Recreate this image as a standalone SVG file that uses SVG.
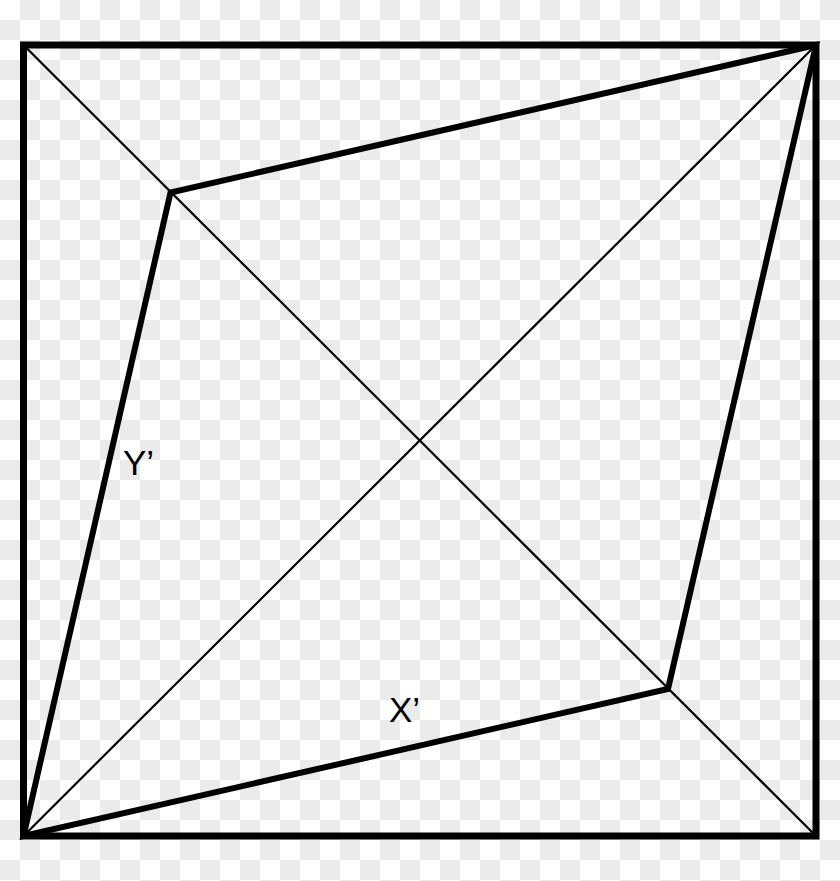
<svg xmlns="http://www.w3.org/2000/svg" width="840" height="881" viewBox="0 0 840 881">
<defs>
<pattern id="checker" patternUnits="userSpaceOnUse" x="0" y="0" width="40" height="40">
<rect width="40" height="40" fill="#ffffff"/>
<rect x="20" y="0" width="20" height="20" fill="#ebebeb"/>
<rect x="0" y="20" width="20" height="20" fill="#ebebeb"/>
</pattern>
<style>
.thin{stroke:#000;stroke-width:2.2;fill:none}
.thick{stroke:#000;stroke-width:6;fill:none;stroke-linejoin:miter}
.frame{stroke:#000;stroke-width:7;fill:none}
.lbl{font-family:"Liberation Sans",Arial,sans-serif;font-size:35px;fill:#000}
</style>
</defs>
<rect width="840" height="881" fill="url(#checker)"/>
<g id="frame">
<rect class="frame" x="23.5" y="45" width="792.5" height="791"/>
</g>
<g id="connectors">
<line class="thin" x1="23.5" y1="45" x2="816" y2="836"/>
<line class="thin" x1="23.5" y1="836" x2="816" y2="45"/>
<polygon class="thick" points="816,45 170.5,192.5 23.5,836 668,689"/>
</g>
<g id="label-y">
<text class="lbl" x="123" y="475">Y’</text>
</g>
<g id="label-x">
<text class="lbl" x="389" y="722">X’</text>
</g>
</svg>
